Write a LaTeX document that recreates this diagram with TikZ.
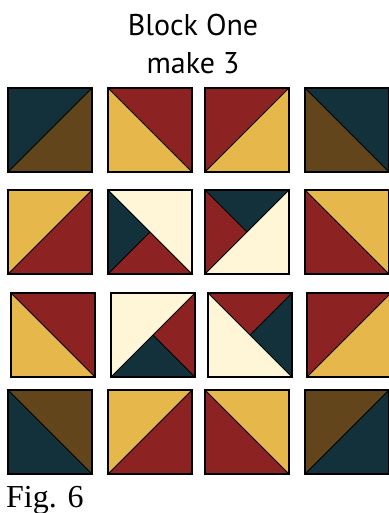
\documentclass[tikz,border=0pt]{standalone}
\usepackage{fontspec}
\setmainfont{Liberation Serif}
\newfontfamily\titlefont{PT Sans}
\definecolor{qnavy}{HTML}{13313B}
\definecolor{qbrown}{HTML}{62451A}
\definecolor{qred}{HTML}{8C2322}
\definecolor{qgold}{HTML}{E6B84B}
\definecolor{qcream}{HTML}{FFF5D7}
\tikzset{
  sqline/.style={draw=black, line width=1.1pt},
  seam/.style={draw=black, line width=0.9pt},
  title/.style={font=\titlefont\fontsize{30}{36}\selectfont, anchor=base, inner sep=0pt},
  figlabel/.style={font=\fontsize{32}{38}\selectfont, anchor=base west, inner sep=0pt}
}
% diagonal from bottom-left to top-right: #3 upper-left, #4 lower-right
\newcommand\qslash[4]{%
  \fill[#3] (#1,#2) -- (#1+84,#2) -- (#1,#2+84) -- cycle;
  \fill[#4] (#1+84,#2) -- (#1+84,#2+84) -- (#1,#2+84) -- cycle;
  \draw[seam] (#1,#2+84) -- (#1+84,#2);
  \draw[sqline] (#1,#2) rectangle (#1+84,#2+84);}
% diagonal from top-left to bottom-right: #3 upper-right, #4 lower-left
\newcommand\qback[4]{%
  \fill[#3] (#1,#2) -- (#1+84,#2) -- (#1+84,#2+84) -- cycle;
  \fill[#4] (#1,#2) -- (#1+84,#2+84) -- (#1,#2+84) -- cycle;
  \draw[seam] (#1,#2) -- (#1+84,#2+84);
  \draw[sqline] (#1,#2) rectangle (#1+84,#2+84);}
\begin{document}
\begin{tikzpicture}[x=1pt,y=-1pt]
\useasboundingbox[fill=white] (0,0) rectangle (388,513);
\node[title] (t1) at (193,36) {Block One};
\node[title] (t2) at (193,74) {make 3};
% row 1
\qslash{8}{88}{qnavy}{qbrown}
\qback{108}{88}{qred}{qgold}
\qslash{205}{88}{qred}{qgold}
\qback{305}{88}{qnavy}{qbrown}
% row 2
\qslash{8}{190}{qgold}{qred}
% quarter square r2c2
\fill[qcream] (108,190) -- (192,190) -- (192,274) -- cycle;
\fill[qnavy] (108,190) -- (150,232) -- (108,274) -- cycle;
\fill[qred] (108,274) -- (150,232) -- (192,274) -- cycle;
\draw[seam] (108,190) -- (192,274) (150,232) -- (108,274);
\draw[sqline] (108,190) rectangle (192,274);
% quarter square r2c3
\fill[qcream] (205,274) -- (289,190) -- (289,274) -- cycle;
\fill[qnavy] (205,190) -- (289,190) -- (247,232) -- cycle;
\fill[qred] (205,190) -- (247,232) -- (205,274) -- cycle;
\draw[seam] (205,274) -- (289,190) (205,190) -- (247,232);
\draw[sqline] (205,190) rectangle (289,274);
\qback{305}{190}{qgold}{qred}
% row 3
\qback{11}{293}{qred}{qgold}
% quarter square r3c2
\fill[qcream] (111,293) -- (195,293) -- (111,377) -- cycle;
\fill[qred] (195,293) -- (195,377) -- (153,335) -- cycle;
\fill[qnavy] (111,377) -- (153,335) -- (195,377) -- cycle;
\draw[seam] (111,377) -- (195,293) (153,335) -- (195,377);
\draw[sqline] (111,293) rectangle (195,377);
% quarter square r3c3
\fill[qcream] (208,293) -- (208,377) -- (292,377) -- cycle;
\fill[qred] (208,293) -- (292,293) -- (250,335) -- cycle;
\fill[qnavy] (292,293) -- (292,377) -- (250,335) -- cycle;
\draw[seam] (208,293) -- (292,377) (250,335) -- (292,293);
\draw[sqline] (208,293) rectangle (292,377);
\qslash{307}{293}{qred}{qgold}
% row 4
\qback{8}{390}{qbrown}{qnavy}
\qslash{108}{390}{qgold}{qred}
\qback{205}{390}{qgold}{qred}
\qslash{305}{390}{qbrown}{qnavy}
\node[figlabel] (fig) at (6,507) {Fig. 6};
\end{tikzpicture}
\end{document}
